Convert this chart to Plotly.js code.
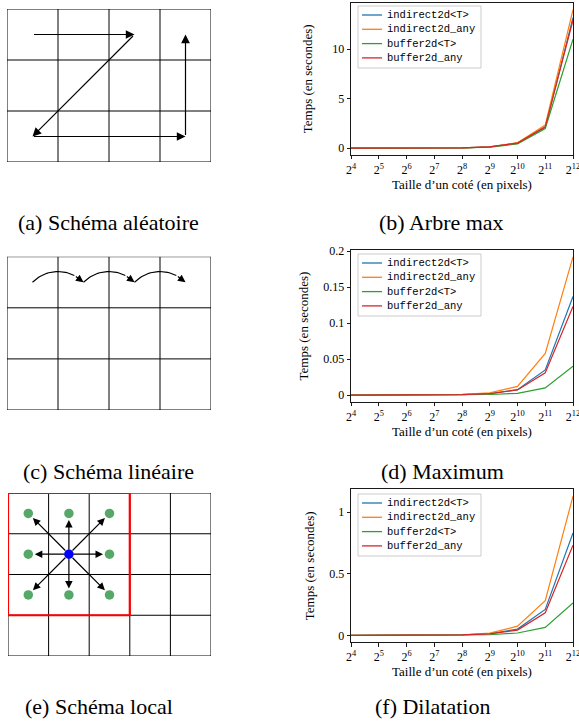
<!DOCTYPE html>
<html><head><meta charset="utf-8">
<script src="https://cdn.plot.ly/plotly-3.0.1.min.js"></script>
<style>html,body{margin:0;padding:0;background:#fff}#chart{width:579px;height:721px}</style>
</head><body><div id="chart"></div>
<script>
// ---------- data ----------
const sizes = [16, 32, 64, 128, 256, 512, 1024, 2048, 4096];
const sizeExponents = [4, 5, 6, 7, 8, 9, 10, 11, 12];
const seriesNames = ['indirect2d<T>', 'indirect2d_any', 'buffer2d<T>', 'buffer2d_any'];
const seriesColors = ['#1f77b4', '#ff7f0e', '#2ca02c', '#d62728'];

// (b) Arbre max
const arbreIndirectT   = [0, 0, 0, 0, 0.02, 0.12, 0.50, 2.10, 13.2];
const arbreIndirectAny = [0, 0, 0, 0, 0.02, 0.13, 0.55, 2.33, 14.0];
const arbreBufferT     = [0, 0, 0, 0, 0.01, 0.10, 0.42, 1.98, 11.0];
const arbreBufferAny   = [0, 0, 0, 0, 0.02, 0.12, 0.50, 2.15, 12.95];
// (d) Maximum
const maxIndirectT   = [0.00001, 0.00002, 0.00005, 0.0002, 0.0006, 0.0020, 0.0075, 0.035, 0.137];
const maxIndirectAny = [0.00001, 0.00003, 0.0001, 0.0003, 0.0009, 0.0030, 0.0120, 0.058, 0.192];
const maxBufferT     = [0, 0.00001, 0.00002, 0.0001, 0.0003, 0.0008, 0.0025, 0.010, 0.040];
const maxBufferAny   = [0.00001, 0.00002, 0.00005, 0.0002, 0.0006, 0.0019, 0.0072, 0.031, 0.123];
// (f) Dilatation
const dilIndirectT   = [0.0001, 0.0002, 0.0006, 0.002, 0.004, 0.013, 0.051, 0.211, 0.832];
const dilIndirectAny = [0.0001, 0.0003, 0.0008, 0.003, 0.005, 0.018, 0.075, 0.281, 1.13];
const dilBufferT     = [0, 0.0001, 0.0002, 0.0007, 0.0015, 0.005, 0.019, 0.065, 0.264];
const dilBufferAny   = [0.0001, 0.0002, 0.0005, 0.002, 0.0035, 0.012, 0.043, 0.183, 0.732];

const yTicksArbre = [0, 5, 10];
const yTicksMax = [0, 0.05, 0.1, 0.15, 0.2];
const yTicksDil = [0, 0.5, 1];

const captions = ['(a) Schéma aléatoire', '(b) Arbre max', '(c) Schéma linéaire',
                  '(d) Maximum', '(e) Schéma local', '(f) Dilatation'];
const xTitle = 'Taille d’un coté (en pixels)';
const yTitle = 'Temps (en secondes)';

// diagram (a): random scan
const randomGridCols = 4, randomGridRows = 3;
const randomPathCols = [0, 2, 0, 3, 3];
const randomPathRows = [0, 0, 2, 2, 0];
// diagram (c): linear scan
const linearGridCols = 4, linearGridRows = 3;
const linearStepCols = [0, 1, 2, 3];
const linearStepRow = 0;
// diagram (e): local scan
const localGridCols = 5, localGridRows = 4;
const localWindowCols = [0, 3], localWindowRows = [0, 3];
const localCenterCol = 1, localCenterRow = 1;
const neighbourDCols = [-1, 0, 1, -1, 1, -1, 0, 1];
const neighbourDRows = [-1, -1, -1, 0, 0, 1, 1, 1];

// ---------- layout helpers ----------
const W = 579, H = 721;
const fx = p => p / W;
const fy = p => 1 - p / H;
const serif = "'Liberation Serif', 'Times New Roman', serif";
const mono = "'Liberation Mono', 'DejaVu Sans Mono', monospace";
const esc = s => s.replace(/</g, '&lt;').replace(/>/g, '&gt;');

const charts = [
  {data: [arbreIndirectT, arbreIndirectAny, arbreBufferT, arbreBufferAny], ticks: yTicksArbre, top: 2.7, bottom: 155, legendTop: 6, standoff: 14},
  {data: [maxIndirectT, maxIndirectAny, maxBufferT, maxBufferAny], ticks: yTicksMax, top: 250, bottom: 402, legendTop: 254, standoff: 9},
  {data: [dilIndirectT, dilIndirectAny, dilBufferT, dilBufferAny], ticks: yTicksDil, top: 489.3, bottom: 642.3, legendTop: 494, standoff: 9}
];

const traces = [];
const layout = {
  width: W, height: H, margin: {l: 0, r: 0, t: 0, b: 0},
  paper_bgcolor: '#fff', plot_bgcolor: 'rgba(0,0,0,0)',
  showlegend: false, annotations: [], shapes: [],
  font: {family: serif, color: '#000'}
};

charts.forEach((c, k) => {
  const n = k + 1;
  const xa = n === 1 ? 'x' : 'x' + n, ya = n === 1 ? 'y' : 'y' + n;
  const allY = [].concat(...c.data);
  const ymin = Math.min(...allY), ymax = Math.max(...allY);
  const pad = (ymax - ymin) * 0.05;
  c.data.forEach((ys, s) => {
    traces.push({x: sizes, y: ys, name: esc(seriesNames[s]), mode: 'lines',
      line: {color: seriesColors[s], width: 1.2}, xaxis: xa, yaxis: ya, hoverinfo: 'skip'});
  });
  const axisCommon = {showline: true, mirror: true, linecolor: '#000', linewidth: 0.9,
    ticks: 'outside', ticklen: 3.5, tickwidth: 0.9, tickcolor: '#000', ticklabeloverflow: 'allow',
    showgrid: false, zeroline: false, tickfont: {family: serif, size: 12, color: '#000'}};
  layout['xaxis' + (n === 1 ? '' : n)] = Object.assign({}, axisCommon, {
    type: 'log', range: [Math.log10(sizes[0]), Math.log10(sizes[sizes.length - 1])],
    domain: [fx(351), fx(573)], anchor: ya, tickmode: 'array', tickvals: sizes,
    ticktext: sizeExponents.map(e => '2<sup>' + e + '</sup>'),
    title: {text: xTitle, font: {family: serif, size: 13, color: '#000'}, standoff: 2}
  });
  layout['yaxis' + (n === 1 ? '' : n)] = Object.assign({}, axisCommon, {
    range: [ymin - pad, ymax + pad], domain: [fy(c.bottom), fy(c.top)], anchor: xa,
    tickmode: 'array', tickvals: c.ticks, ticktext: c.ticks.map(String),
    title: {text: yTitle, font: {family: serif, size: 13, color: '#000'}, standoff: c.standoff + 2}
  });
  // legend box (drawn as shapes + texts to match the compact matplotlib legend)
  const lt = c.legendTop, lLeft = 358, lRight = 481, rowStep = 14.3, firstRow = 9;
  layout.shapes.push({type: 'rect', xref: 'paper', yref: 'paper', x0: fx(lLeft), x1: fx(lRight),
    y0: fy(lt), y1: fy(lt + 62), line: {color: '#cccccc', width: 1}, fillcolor: 'rgba(255,255,255,0.85)', layer: 'above'});
  seriesNames.forEach((nm, s) => {
    const yy = lt + firstRow + s * rowStep;
    layout.shapes.push({type: 'line', xref: 'paper', yref: 'paper', x0: fx(lLeft + 4), x1: fx(lLeft + 24),
      y0: fy(yy), y1: fy(yy), line: {color: seriesColors[s], width: 1.3}, layer: 'above'});
    layout.annotations.push({text: esc(nm), xref: 'paper', yref: 'paper', x: fx(lLeft + 27), y: fy(yy),
      xanchor: 'left', yanchor: 'middle', showarrow: false, font: {family: mono, size: 10.5, color: '#000'}});
  });
});

// ---------- diagrams ----------
function diagramAxes(n, left, right, top, bottom, cols, rows) {
  const hidden = {visible: false, showgrid: false, zeroline: false, fixedrange: true};
  layout['xaxis' + n] = Object.assign({}, hidden, {domain: [fx(left), fx(right)], range: [0, cols], anchor: 'y' + n});
  layout['yaxis' + n] = Object.assign({}, hidden, {domain: [fy(bottom), fy(top)], range: [rows, 0], anchor: 'x' + n});
}
function gridTrace(n, cols, rows) {
  const xs = [], ys = [];
  for (let c = 0; c <= cols; c++) { xs.push(c, c, null); ys.push(0, rows, null); }
  for (let r = 0; r <= rows; r++) { xs.push(0, cols, null); ys.push(r, r, null); }
  return {x: xs, y: ys, mode: 'lines', line: {color: '#000', width: 1}, xaxis: 'x' + n, yaxis: 'y' + n,
    showlegend: false, hoverinfo: 'skip', cliponaxis: false};
}
function arrow(n, x0, y0, x1, y1, opts) {
  return Object.assign({xref: 'x' + n, yref: 'y' + n, axref: 'x' + n, ayref: 'y' + n,
    x: x1, y: y1, ax: x0, ay: y0, text: '', showarrow: true, arrowhead: 2, arrowsize: 1.45,
    arrowwidth: 1.2, arrowcolor: '#000'}, opts || {});
}

// (a)
diagramAxes(4, 7, 211, 9, 162, randomGridCols, randomGridRows);
traces.push(gridTrace(4, randomGridCols, randomGridRows));
for (let i = 0; i + 1 < randomPathCols.length; i++) {
  layout.annotations.push(arrow(4, randomPathCols[i] + 0.5, randomPathRows[i] + 0.5,
    randomPathCols[i + 1] + 0.5, randomPathRows[i + 1] + 0.5));
}

// (c)
diagramAxes(5, 7, 211, 256.7, 410, linearGridCols, linearGridRows);
traces.push(gridTrace(5, linearGridCols, linearGridRows));
{
  const sag = 0.21, chord = 1;
  const R = (chord * chord / 4 + sag * sag) / (2 * sag);
  const th0 = Math.asin(chord / 2 / R);
  const headArc = 0.32;
  const ax = [], ay = [];
  for (let i = 0; i + 1 < linearStepCols.length; i++) {
    const mx = (linearStepCols[i] + linearStepCols[i + 1]) / 2 + 0.5;
    const cy = linearStepRow + 0.5 + (R - sag);
    const steps = 24;
    for (let j = 0; j <= steps; j++) {
      const th = -th0 + (2 * th0 - headArc) * j / steps;
      ax.push(mx + R * Math.sin(th)); ay.push(cy - R * Math.cos(th));
    }
    ax.push(null); ay.push(null);
    const thT = th0 - headArc;
    layout.annotations.push(arrow(5, mx + R * Math.sin(thT), cy - R * Math.cos(thT),
      linearStepCols[i + 1] + 0.5, linearStepRow + 0.5, {arrowsize: 1.25}));
  }
  traces.push({x: ax, y: ay, mode: 'lines', line: {color: '#000', width: 1.2}, xaxis: 'x5', yaxis: 'y5',
    showlegend: false, hoverinfo: 'skip', cliponaxis: false});
}

// (e)
diagramAxes(6, 8, 211, 493, 656, localGridCols, localGridRows);
traces.push(gridTrace(6, localGridCols, localGridRows));
layout.shapes.push({type: 'rect', xref: 'x6', yref: 'y6', x0: localWindowCols[0], x1: localWindowCols[1],
  y0: localWindowRows[0], y1: localWindowRows[1], line: {color: '#ff0000', width: 2.2}, layer: 'above'});
{
  const cx = localCenterCol + 0.5, cy = localCenterRow + 0.5;
  const nx = neighbourDCols.map(d => cx + d), ny = neighbourDRows.map(d => cy + d);
  nx.forEach((x, i) => layout.annotations.push(arrow(6, cx, cy, x, ny[i],
    {arrowsize: 1.25, standoff: 6.5, startstandoff: 3})));
  traces.push({x: nx, y: ny, mode: 'markers', marker: {color: '#55a868', size: 9.5}, xaxis: 'x6', yaxis: 'y6',
    showlegend: false, hoverinfo: 'skip', cliponaxis: false});
  traces.push({x: [cx], y: [cy], mode: 'markers', marker: {color: '#0000ff', size: 9.5}, xaxis: 'x6', yaxis: 'y6',
    showlegend: false, hoverinfo: 'skip', cliponaxis: false});
}

// captions
const capPos = [[108, 223], [441, 223], [108, 471], [442, 471], [99, 706], [432, 706]];
captions.forEach((t, i) => layout.annotations.push({text: t, xref: 'paper', yref: 'paper',
  x: fx(capPos[i][0]), y: fy(capPos[i][1]), xanchor: 'center', yanchor: 'middle', showarrow: false,
  font: {family: serif, size: 22, color: '#000'}}));

Plotly.newPlot('chart', traces, layout, {staticPlot: true, displayModeBar: false});
</script>
</body></html>
